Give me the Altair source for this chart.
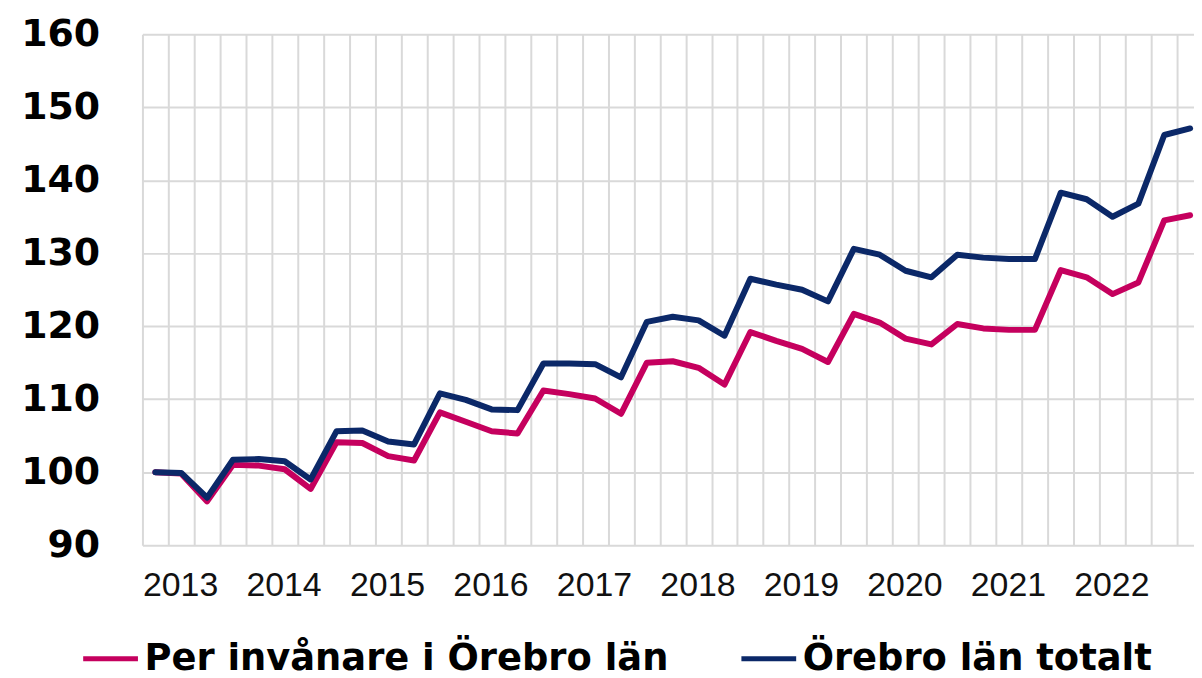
import altair as alt
import pandas as pd

years = [2013, 2014, 2015, 2016, 2017, 2018, 2019, 2020, 2021, 2022]
quarter_index = list(range(41))

per_invanare = [100.0, 99.8, 96.0, 101.0, 100.9, 100.4, 97.7, 104.1, 104.0, 102.2,
                101.6, 108.2, 106.9, 105.6, 105.3, 111.2, 110.7, 110.1, 108.0, 115.0,
                115.2, 114.3, 112.0, 119.2, 118.0, 116.9, 115.1, 121.7, 120.5, 118.3,
                117.5, 120.3, 119.7, 119.5, 119.5, 127.7, 126.7, 124.4, 126.0, 134.5,
                135.2]
totalt = [100.0, 99.9, 96.5, 101.7, 101.8, 101.5, 99.0, 105.6, 105.7, 104.2,
          103.8, 110.8, 109.9, 108.6, 108.5, 114.9, 114.9, 114.8, 113.0, 120.6,
          121.3, 120.8, 118.7, 126.5, 125.7, 125.0, 123.4, 130.6, 129.8, 127.6,
          126.7, 129.8, 129.4, 129.2, 129.2, 138.3, 137.4, 135.0, 136.8, 146.2,
          147.1]

series_names = ["Per invånare i Örebro län", "Örebro län totalt"]
colors = ["#C5005E", "#0B2868"]

rows = []
for name, vals in zip(series_names, [per_invanare, totalt]):
    for i, v in zip(quarter_index, vals):
        rows.append({"pos": i + 0.5, "value": v, "serie": name})
df = pd.DataFrame(rows)

x_ticks = list(range(41))

chart = alt.Chart(df).mark_line(strokeWidth=6, strokeCap="round", strokeJoin="round").encode(
    x=alt.X("pos:Q",
            scale=alt.Scale(domain=[0, 40.65], nice=False, zero=False),
            axis=alt.Axis(values=x_ticks, title=None, grid=True, ticks=False, domain=False,
                          labelExpr="(datum.value % 4 == 0 && datum.value < 40) ? '' + (2013 + datum.value / 4) : ''",
                          labelAlign="left", labelBaseline="top", labelPadding=24,
                          labelFont="Liberation Sans", labelFontSize=34, labelColor="#111111",
                          labelOverlap=False, labelBound=False, labelFlush=False)),
    y=alt.Y("value:Q",
            scale=alt.Scale(domain=[90, 160], nice=False, zero=False),
            axis=alt.Axis(values=[90, 100, 110, 120, 130, 140, 150, 160], title=None, grid=True,
                          ticks=False, domain=False, labelPadding=43,
                          labelFont="DejaVu Sans", labelFontWeight="bold", labelFontSize=38,
                          labelColor="#000000", labelBaseline="middle")),
    color=alt.Color("serie:N",
                    scale=alt.Scale(domain=series_names, range=colors),
                    legend=alt.Legend(title=None, orient="none", direction="horizontal",
                                      legendX=-62, legendY=597,
                                      symbolType="stroke", symbolSize=3025, symbolStrokeWidth=5,
                                      labelFont="DejaVu Sans", labelFontWeight="bold",
                                      labelFontSize=37, labelColor="#000000", labelLimit=800,
                                      labelOffset=4, columnPadding=62, padding=0)),
).properties(
    width=1056,
    height=513,
    autosize=alt.AutoSizeParams(type="none"),
    padding={"left": 135, "top": 25, "right": 0, "bottom": 132},
).configure_axis(
    gridColor="#D9D9D9",
    gridWidth=2,
).configure_view(
    strokeWidth=0,
)

chart.save("out.html", embed_options={"renderer": "svg", "actions": False})
